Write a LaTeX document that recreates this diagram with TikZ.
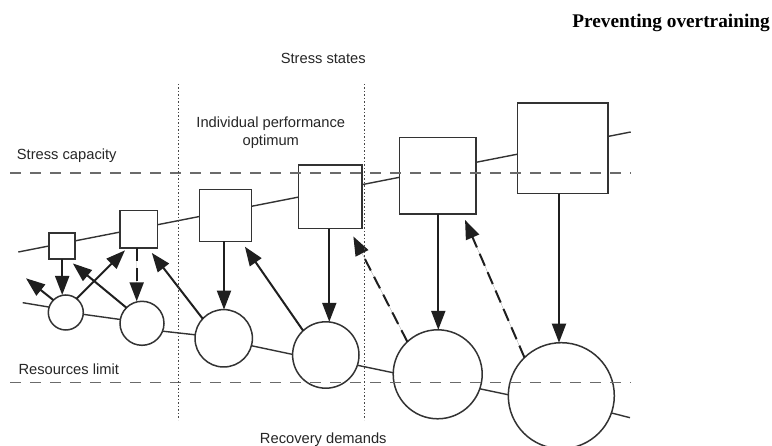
\documentclass[tikz,border=0pt]{standalone}
\usepackage{fontspec}
\setmainfont{Liberation Sans}
\newfontfamily\titlefont{Liberation Serif}
\usetikzlibrary{calc,arrows.meta}
\begin{document}
\begin{tikzpicture}[x=1pt,y=-1pt,
  sq/.style={draw=black!80, line width=1.5pt, fill=white, minimum size=#1, inner sep=0pt, outer sep=0pt},
  circ/.style={circle, draw=black!80, line width=1.5pt, fill=white, minimum size=#1, inner sep=0pt, outer sep=0pt},
  conn/.style={draw=black!80, line width=1.4pt},
  arr/.style={-{Triangle[length=19pt,width=14pt]}, line width=2pt, draw=black!88, fill=black!88},
  darr/.style={arr, dash pattern=on 13pt off 7pt},
  guide/.style={draw=black!58, line width=1.9pt, dash pattern=on 11pt off 9pt},
  dotv/.style={draw=black!72, line width=1.5pt, dash pattern=on 1.3pt off 2.2pt},
  lbl/.style={font=\fontsize{14.7}{17.7}\selectfont, text=black!85, inner sep=0pt}
]
\useasboundingbox (0,0) rectangle (772,446);
\clip (0,0) rectangle (772,446);
\fill[white] (0,0) rectangle (772,446);

% upper trend line (behind the squares)
\coordinate (L0) at (18.3,252);
\coordinate (L1) at (630.7,132);
\draw[conn] (L0) -- (L1);

% squares
\node[sq=26pt]   (s1) at (62.2,246.2) {};
\node[sq=37.5pt] (s2) at (138.7,229.2) {};
\node[sq=52pt]   (s3) at (225.4,215.3) {};
\node[sq=63.5pt] (s4) at (330,197) {};
\node[sq=76.5pt] (s5) at (437.5,175.7) {};
\node[sq=90.7pt] (s6) at (562.7,148.3) {};

% circles
\node[circ=35pt]   (c1) at (65.8,312.5) {};
\node[circ=44pt]   (c2) at (142,323.3) {};
\node[circ=57.4pt] (c3) at (223.7,338.3) {};
\node[circ=66.4pt] (c4) at (325.8,355) {};
\node[circ=89pt]   (c5) at (437.7,374.3) {};
\node[circ=106pt]  (c6) at (561.3,395.7) {};

% lower line through circles
\coordinate (q0) at (22.7,302.7);
\coordinate (q7) at (630,417.7);
\draw[conn] (q0) -- (c1.162);
\draw[conn] (c1.-6) -- (c2.170);
\draw[conn] (c2.-21) -- (c3.173);
\draw[conn] (c3.-15) -- (c4.179);
\draw[conn] (c4.-18) -- (c5.178);
\draw[conn] (c5.-19) -- (c6.179);
\draw[conn] (c6.-19.4) -- (q7);

% arrows
\coordinate (f1) at (26,278.3);
\draw[arr] (s1.south) -- (s1.south |- c1.north);
\draw[arr] (c1.135) -- (f1);
\draw[arr] (c1.52) -- ($(s2.south west)+(5,2.4)$);
\draw[arr] (c2.135) -- ($(s1.south east)+(-2.3,4.3)$);
\draw[darr] ([xshift=-2pt]s2.south) -- ([xshift=-2pt]s2.south |- c2.north);
\draw[arr] (c3.137) -- ($(s2.south east)+(-5.6,5)$);
\draw[arr] ([xshift=-1.4pt]s3.south) -- ([xshift=-1.4pt]s3.south |- c3.north);
\draw[arr] (c4.133) -- ($(s3.south east)+(-6.5,5.4)$);
\draw[arr] ([xshift=-0.7pt]s4.south) -- ([xshift=-0.7pt]s4.south |- c4.north);
\draw[darr] (c5.133) -- ($(s4.south east)+(-8.4,7.7)$);
\draw[arr] ([xshift=0.8pt]s5.south) -- ([xshift=0.8pt]s5.south |- c5.north);
\draw[darr] (c6.134) -- ($(s5.south east)+(-10.7,6)$);
\draw[arr] ([xshift=-3.7pt]s6.south) -- ([xshift=-3.7pt]s6.south |- c6.north);

% guide lines
\coordinate (g1a) at (10,172.7);
\coordinate (g1b) at (630.7,172.7);
\coordinate (g2a) at (10,382.5);
\coordinate (g2b) at (630.7,382.5);
\draw[guide] (g1a) -- (g1b);
\draw[guide] (g2a) -- (g2b);
\coordinate (d1a) at (178.3,84);
\coordinate (d1b) at (178.3,420);
\coordinate (d2a) at (364.7,84);
\coordinate (d2b) at (364.7,420);
\draw[dotv] (d1a) -- (d1b);
\draw[dotv] (d2a) -- (d2b);

% labels
\node[lbl] (tss) at (323.3,58.3) {Stress states};
\node[lbl, align=center] (tip) at (270.8,132.8) {Individual performance\\optimum};
\node[lbl, anchor=west] (tsc) at (16.7,156) {Stress capacity};
\node[lbl, anchor=west] (trl) at (18.3,369) {Resources limit};
\node[lbl] (trd) at (323.3,439.5) {Recovery demands};
\node[font=\titlefont\bfseries\fontsize{19.3}{22}\selectfont, anchor=east, inner sep=0pt] (title) at (770,22.7) {Preventing overtraining};
\end{tikzpicture}
\end{document}
